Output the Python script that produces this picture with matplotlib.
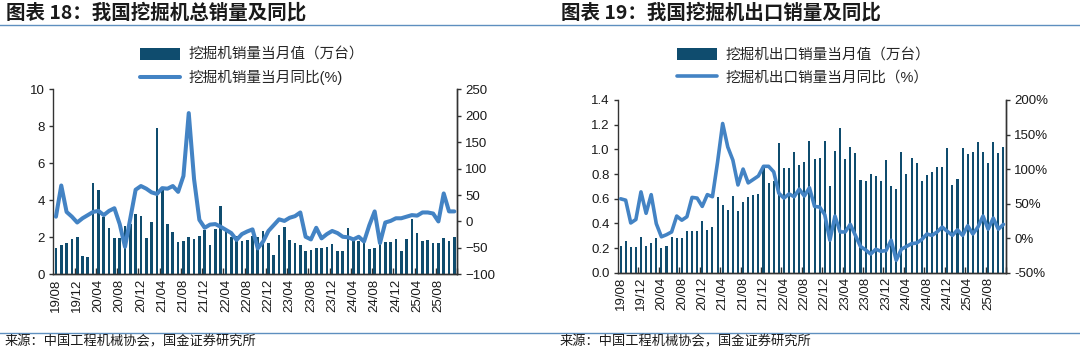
import matplotlib
matplotlib.use("Agg")
import matplotlib.pyplot as plt
from matplotlib.lines import Line2D
from matplotlib.ticker import FuncFormatter
import pandas as pd

# ---------------- data ----------------
months = [p.strftime("%y/%m") for p in pd.period_range("2019-08", "2025-11", freq="M")]

total_sales = [1.40, 1.60, 1.70, 1.93, 2.04, 1.00, 0.94, 4.95, 4.55, 3.12,
               2.48, 1.94, 1.95, 2.60, 2.72, 3.25, 3.15, 1.96, 2.83, 7.90,
               4.55, 2.74, 2.30, 1.75, 1.80, 2.00, 1.92, 2.05, 2.38, 1.60,
               2.45, 3.70, 2.45, 2.00, 2.05, 1.80, 1.84, 2.07, 2.04, 2.36,
               1.68, 1.03, 2.14, 2.54, 1.87, 1.69, 1.57, 1.28, 1.32, 1.42,
               1.44, 1.50, 1.66, 1.26, 1.28, 2.49, 1.84, 1.80, 1.68, 1.37,
               1.44, 1.66, 1.73, 1.77, 1.93, 1.26, 1.93, 2.97, 2.22, 1.82,
               1.87, 1.71, 1.68, 1.96, 1.82, 2.00]

total_yoy = [9, 68, 18, 9, -2, 6, 12, 18, 20, 12,
             20, 25, -5, -48, 6, 60, 67, 62, 55, 52,
             63, 62, 67, 56, 86, 205, 80, 3, -12, -6,
             -5, -10, -16, -22, -35, -24, -19, -15, -51, -38,
             -18, -7, 4, 1, 7, 10, 17, -29, -34, -12,
             -32, -24, -18, -22, -29, -30, -34, -29, -38, -7,
             19, -41, -2, 1, 6, 6, 9, 12, 11, 17,
             17, 15, 0, 53, 19, 19]

export_sales = [0.22, 0.26, 0.21, 0.21, 0.29, 0.22, 0.24, 0.28, 0.20, 0.22,
                0.29, 0.28, 0.28, 0.34, 0.34, 0.34, 0.42, 0.35, 0.37, 0.61,
                0.55, 0.51, 0.62, 0.50, 0.57, 0.61, 0.63, 0.64, 0.85, 0.73,
                0.74, 1.05, 0.85, 0.85, 0.98, 0.87, 0.90, 1.07, 0.92, 0.93,
                1.07, 0.70, 0.99, 1.17, 0.92, 1.02, 0.97, 0.75, 0.74, 0.80,
                0.78, 0.74, 0.91, 0.70, 0.68, 0.98, 0.80, 0.93, 0.89, 0.74,
                0.79, 0.82, 0.86, 0.86, 1.01, 0.71, 0.76, 1.01, 0.96, 0.98,
                1.06, 0.98, 0.89, 1.06, 0.97, 1.02]

export_yoy = [57, 55, 22, 27, 67, 36, 63, 21, 2, 5,
              9, 32, 26, 31, 59, 58, 46, 63, 60, 110,
              166, 132, 113, 77, 100, 80, 85, 90, 104, 104,
              96, 65, 58, 64, 60, 71, 61, 73, 46, 45,
              34, -3, 32, 9, 9, 20, 4, -12, -17, -23,
              -16, -19, -18, -3, -32, -16, -12, -8, -7, -2,
              6, 4, 9, 16, 10, 4, 12, 4, 18, 6,
              16, 32, 13, 29, 13, 20]

titles = ["图表 18：我国挖掘机总销量及同比", "图表 19：我国挖掘机出口销量及同比"]
legend_labels = [["挖掘机销量当月值（万台）", "挖掘机销量当月同比(%)"],
                 ["挖掘机出口销量当月值（万台）", "挖掘机出口销量当月同比（%）"]]
source = "来源：中国工程机械协会，国金证券研究所"

# ---------------- style ----------------
plt.rcParams['font.family'] = ['Liberation Sans', 'Noto Sans CJK SC', 'DejaVu Sans']
BAR = "#0F4C6E"
LINE = "#4383C4"
RULE = "#5E8FBF"
TXT = "#1a1a1a"
SPINE = "#333333"

W, H = 1080, 359
fig = plt.figure(figsize=(10.8, 3.59), dpi=100)
fig.patch.set_facecolor("white")

x = list(range(len(months)))
label_pos = x[::4][:19]
label_txt = months[::4][:19]
minor_pos = [i + 3.5 for i in range(0, 73, 4)]


def style_axes(ax, axr):
    for a in (ax, axr):
        a.spines['top'].set_visible(False)
        for s in ('left', 'right', 'bottom'):
            a.spines[s].set_color(SPINE)
            a.spines[s].set_linewidth(1.0)
        a.tick_params(axis='y', direction='out', length=3, width=1,
                      color=SPINE, labelsize=9.5, labelcolor=TXT, pad=3)
    ax.set_xlim(-0.5, len(months) - 0.5)
    ax.set_xticks(label_pos)
    ax.set_xticklabels(label_txt, rotation=90, fontsize=9.5, color=TXT)
    ax.set_xticks(minor_pos, minor=True)
    ax.tick_params(axis='x', which='major', length=0, pad=3)
    ax.tick_params(axis='x', which='minor', direction='in', length=4,
                   width=1, color=SPINE)
    axr.spines['left'].set_visible(False)
    axr.set_zorder(ax.get_zorder() + 1)
    axr.patch.set_visible(False)


# ---- left chart ----
ax1 = fig.add_axes([53.3 / W, 1 - 274.3 / H, 403.7 / W, 185 / H])
ax1r = ax1.twinx()
b1 = ax1.bar(x, total_sales, width=0.5, color=BAR, zorder=2)
l1, = ax1r.plot(x, total_yoy, color=LINE, lw=2.9, solid_joinstyle='round',
                solid_capstyle='round')
ax1.set_ylim(0, 10)
ax1.set_yticks(range(0, 11, 2))
ax1r.set_ylim(-100, 250)
ax1r.set_yticks(range(-100, 251, 50))
style_axes(ax1, ax1r)

# ---- right chart ----
ax2 = fig.add_axes([618 / W, 1 - 272.7 / H, 388 / W, 172.7 / H])
ax2r = ax2.twinx()
b2 = ax2.bar(x, export_sales, width=0.4, color=BAR, zorder=2)
l2, = ax2r.plot(x, export_yoy, color=LINE, lw=2.6, solid_joinstyle='round',
                solid_capstyle='round')
ax2.set_ylim(0, 1.4)
ax2.set_yticks([i * 0.2 for i in range(8)])
ax2.yaxis.set_major_formatter(FuncFormatter(lambda v, p: f"{v:.1f}"))
ax2r.set_ylim(-50, 200)
ax2r.set_yticks(range(-50, 201, 50))
ax2r.yaxis.set_major_formatter(FuncFormatter(lambda v, p: f"{v:.0f}%"))
style_axes(ax2, ax2r)

# ---- legends ----
for handles, labels, xpos in (((b1, l1), legend_labels[0], 140),
                              ((b2, l2), legend_labels[1], 677)):
    leg = fig.legend(handles, labels, loc='center left',
                     bbox_to_anchor=(xpos / W, 1 - 66.5 / H),
                     bbox_transform=fig.transFigure, frameon=False,
                     fontsize=10.5, handlelength=2.75, handleheight=0.9,
                     handletextpad=0.55, labelspacing=0.6, borderpad=0,
                     borderaxespad=0)
    for t in leg.get_texts():
        t.set_color("#262626")

# ---- titles, rules, sources ----
for t, xpos in zip(titles, (6, 561)):
    fig.text(xpos / W, 1 - 13 / H, t, fontsize=14, fontweight='bold',
             ha='left', va='center', color=TXT,
             family=['Noto Sans CJK SC', 'DejaVu Sans'])
for ypix in (25, 333):
    fig.add_artist(Line2D([0, 1], [1 - ypix / H] * 2, transform=fig.transFigure,
                          color=RULE, lw=1.0))
for xpos in (5, 560):
    fig.text(xpos / W, 1 - 342 / H, source, fontsize=9.5, ha='left',
             va='center', color=TXT, family=['Noto Sans CJK SC', 'DejaVu Sans'])

fig.savefig("out.png", dpi=100, facecolor="white")
